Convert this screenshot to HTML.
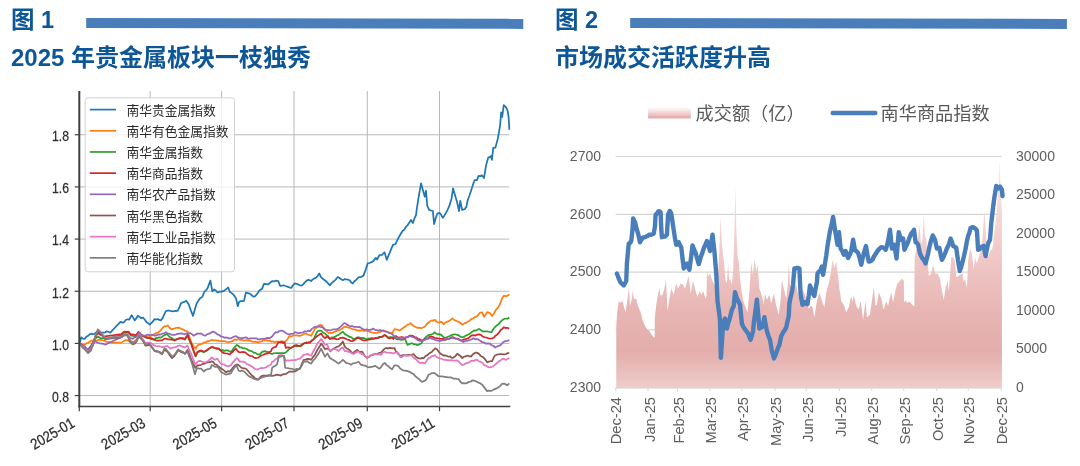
<!DOCTYPE html>
<html lang="zh-CN">
<head>
<meta charset="utf-8">
<title>图1 2025年贵金属板块一枝独秀 / 图2 市场成交活跃度升高</title>
<style>
html,body{margin:0;padding:0;background:#fff;}
body{width:1080px;height:466px;overflow:hidden;position:relative;font-family:"Liberation Sans",sans-serif;}
svg{position:absolute;left:0;top:0;display:block;opacity:0.9999;will-change:opacity;}
text{font-family:"Liberation Sans",sans-serif;}
.cjk{font-family:"Liberation Sans","Noto Sans CJK SC",sans-serif;}
</style>
</head>
<body>
<svg width="1080" height="466" viewBox="0 0 1080 466">
<defs>
<linearGradient id="ag" x1="0" y1="158" x2="0" y2="388" gradientUnits="userSpaceOnUse">
<stop offset="0" stop-color="#fbeaea"/>
<stop offset="0.38" stop-color="#f1cccb"/>
<stop offset="0.66" stop-color="#e7b6b4"/>
<stop offset="0.84" stop-color="#e3adab"/>
<stop offset="1" stop-color="#eecdcb"/>
</linearGradient>
<linearGradient id="lg" x1="0" y1="108" x2="0" y2="119" gradientUnits="userSpaceOnUse">
<stop offset="0" stop-color="#fdf6f5"/>
<stop offset="0.3" stop-color="#f7e0e0"/>
<stop offset="0.6" stop-color="#efc5c8"/>
<stop offset="0.88" stop-color="#e5aaa9"/>
<stop offset="1" stop-color="#eec6c5"/>
</linearGradient>
<clipPath id="c1"><rect x="79.5" y="90" width="431" height="316"/></clipPath>
</defs>
<!-- header 1 -->
<g id="hdr1">
<polygon points="86.2,18.0 523.3,18.75 523.3,28.9 86.2,27.9" fill="#4a7ebb"/>
<text class="cjk" x="11" y="27.6" font-size="23.5" font-weight="bold" fill="#0d5799">图 1</text>
<text class="cjk" x="11" y="65.7" font-size="24" font-weight="bold" fill="#0d5799">2025 年贵金属板块一枝独秀</text>
</g>
<!-- header 2 -->
<g id="hdr2">
<polygon points="630.2,18.1 1066.9,18.9 1066.9,28.9 630.2,27.9" fill="#4a7ebb"/>
<text class="cjk" x="555" y="27.6" font-size="23.5" font-weight="bold" fill="#0d5799">图 2</text>
<text class="cjk" x="555" y="65.7" font-size="24" font-weight="bold" fill="#0d5799">市场成交活跃度升高</text>
</g>
<!-- left chart -->
<g id="chart1">
<g stroke="#b9b9b9" stroke-width="1" fill="none">
<line x1="150.2" y1="91" x2="150.2" y2="406.55"/>
<line x1="221.6" y1="91" x2="221.6" y2="406.55"/>
<line x1="294" y1="91" x2="294" y2="406.55"/>
<line x1="367.3" y1="91" x2="367.3" y2="406.55"/>
<line x1="439.5" y1="91" x2="439.5" y2="406.55"/>
<line x1="79.3" y1="395.56" x2="509.3" y2="395.56"/>
<line x1="79.3" y1="343.4" x2="509.3" y2="343.4"/>
<line x1="79.3" y1="291.24" x2="509.3" y2="291.24"/>
<line x1="79.3" y1="239.08" x2="509.3" y2="239.08"/>
<line x1="79.3" y1="186.92" x2="509.3" y2="186.92"/>
<line x1="79.3" y1="134.76" x2="509.3" y2="134.76"/>
</g>
<g fill="none" stroke-width="1.75" stroke-linejoin="round" stroke-linecap="butt" clip-path="url(#c1)">
<path d="M79.7 343.3 L81.2 337.32 L82.9 338.52 L84.6 338.83 L86.3 336.91 L88 335.7 L89.5 334.59 L91 333.67 L92.75 334.15 L94.5 333.81 L96 332.43 L97.5 332.16 L99 332.67 L100.5 333.63 L102 332.5 L103.5 332.67 L105.2 332.32 L106.9 331.27 L110.3 332.7 L114.6 328 L120.42 321.82 L122.91 322.66 L124.46 321.68 L126.02 319.73 L127.58 319.26 L129.13 319.73 L131.62 315.19 L133.18 317.63 L134.73 320.44 L136.29 318.18 L137.84 315.75 L139.4 316.7 L140.95 318.06 L143.19 317.71 L144.87 319.76 L146.55 322.31 L148.11 323.23 L149.66 324.66 L152.15 322.34 L154.64 319.1 L156.2 319.55 L157.75 318.99 L159.31 319.94 L160.86 320.43 L162.42 318.37 L163.97 315.15 L165.84 311.06 L167.71 310.73 L169.57 310.73 L171.44 311.19 L173.31 311.45 L175.49 310.84 L177.66 310.78 L179.43 307.05 L181.2 302.97 L182.86 302.34 L184.52 301.86 L186.18 300.74 L188.67 304.31 L190.84 310.33 L193.02 315.91 L194.89 309.29 L196.75 303.21 L198.31 300.78 L199.87 298.55 L202.35 296.87 L204.22 291.96 L205.78 290.52 L207.33 288.69 L208.89 284.64 L210.44 280.67 L212.31 291.38 L214.18 289.39 L216.04 290.8 L217.91 292.48 L219.78 291.61 L221.64 291.65 L223.2 291.18 L224.75 290.23 L226.5 288.87 L228.24 287.46 L229.73 291.71 L231.6 293.11 L233.46 294.59 L235.95 298.22 L237.82 306.2 L239.06 301.99 L240.72 301.08 L242.38 301.01 L244.04 300.79 L245.91 292.53 L247.78 293.06 L249.64 293.62 L251.3 294.83 L252.96 296.35 L254.62 296.61 L256.28 294.9 L257.94 292.66 L259.6 290.18 L262.09 288.87 L263.95 283.93 L266.13 284.11 L268.31 284.43 L270.17 282.76 L272.04 281.08 L273.91 281.42 L275.77 280.7 L278.26 281.14 L280 285.65 L280.6 285.99 L282.16 285.52 L283.71 285.3 L285.58 286.04 L287.44 286.68 L289.31 287.44 L291.18 287.97 L293.04 285.18 L294.91 283.38 L296.78 283.74 L298.64 284.79 L300.2 285.5 L301.75 285.52 L303.31 284.18 L304.87 282.42 L306.73 280.6 L308.6 279.69 L311.09 281.1 L312.75 279.48 L314.41 278.37 L316.07 277.68 L317.62 276.04 L319.18 273.43 L321.04 277.1 L322.91 278.99 L324.78 280.32 L326.44 281.54 L328.09 283.31 L329.75 285.39 L331.62 283.11 L333.49 281.53 L335.66 279.59 L337.84 277.02 L339.5 277.94 L341.16 279.25 L342.82 280.17 L344.69 279.1 L346.35 279.47 L348 279.61 L349.66 280.21 L351.22 282.43 L352.78 283.51 L354.43 281.29 L356.09 279.9 L357.75 278.06 L359.31 277.02 L360.86 277.06 L363.35 275.87 L365.53 270.08 L367.71 263.44 L369.57 263.01 L371.44 262.15 L373.31 261.13 L375.8 257.86 L377.04 259.47 L379.53 255.03 L382.02 254.9 L384.51 252.27 L386.78 259.87 L388.33 255.94 L389.89 252.37 L391.44 248.38 L393 244.93 L395.49 244.03 L397.04 240.58 L398.6 237.62 L401.09 233.22 L402.75 230.74 L404.41 229.33 L406.07 226.73 L407.72 225.07 L409.38 222.55 L411.04 219.94 L412.91 222.97 L414.46 218.45 L416.02 215.18 L416.69 209.64 L418.55 197.57 L421.04 183.33 L422.91 189.99 L424.78 196.64 L426.02 190.75 L427.26 205.74 L429.13 209.96 L431 210.5 L432.86 211.05 L434.11 224.1 L435.98 217.19 L437.22 213.68 L439.71 212.94 L441.26 215.1 L442.82 217.76 L444.38 215.66 L445.93 212.88 L447.49 209.87 L449.04 206.67 L451.53 198.84 L453.02 188.28 L455.26 195.95 L457.13 202.26 L459 211.03 L460.24 200.77 L462.11 210 L464.6 209.17 L466.46 206.62 L467.71 199.99 L469.26 195.96 L470.82 191.41 L472.69 185.41 L474.55 180.18 L476.91 180.22 L478.63 175.83 L480.24 176.2 L481.85 175.28 L483.99 178.09 L486.14 164.91 L488.28 157.44 L489.68 157.34 L491.07 155.96 L491.93 159.87 L493.22 147.99 L495.36 147.67 L497.94 138.22 L500.09 125.33 L501.16 112.43 L502.23 117 L503.73 105.07 L506.09 107.39 L507.6 110.57 L508.67 117.72 L509.31 129.7" stroke="#1f77b4"/>
<path d="M79.7 343.3 L81.33 344.48 L82.97 345.1 L84.6 344.99 L86.3 343.4 L88 342.76 L89.75 341.83 L91.5 340.58 L93.25 340.52 L95 341.05 L96.5 340.63 L98 340.04 L99.58 339.72 L101.15 340.17 L102.72 340.25 L104.3 340.61 L106.22 341.62 L108.15 342.09 L110.08 342.13 L112 342.57 L121.5 342.6 L124 340.89 L126 340.19 L128 340.27 L129.5 341.46 L131 342.41 L132.67 341.52 L134.33 341.3 L136 340.01 L137.85 338.14 L139.71 336.01 L141.37 335.77 L143.03 336.34 L144.69 336.58 L146.35 336.77 L148 337.35 L149.66 336.84 L151.32 335.34 L152.98 335.15 L154.64 333.79 L156.3 333.1 L157.96 332.47 L159.62 331.28 L161.28 329.76 L162.94 327.5 L164.6 326.16 L166.15 326.3 L167.71 325.39 L169.57 327.73 L171.44 329.39 L173 328.81 L174.55 328.43 L176.42 327.91 L178.29 327.63 L180.15 328.17 L182.02 329.07 L183.51 329.55 L185 330.72 L187.49 331.41 L189.36 336.78 L191.22 342.45 L193.4 346.04 L195.58 348.75 L197.44 345.53 L199.1 344.58 L200.76 344.08 L202.42 343.76 L204.08 342.44 L205.74 342.5 L207.4 341.07 L209.06 341.26 L210.72 340.12 L212.38 340.15 L214.04 340.39 L215.7 340.35 L217.35 340.56 L219.01 340.94 L220.67 341.08 L222.33 341.09 L223.99 341.03 L225.65 341.61 L227.31 342.01 L229.18 341.95 L231.04 341.6 L232.91 340.94 L234.78 339.42 L236.64 339.8 L238.51 339.16 L240.17 340.02 L241.83 339.61 L243.49 340.63 L245.15 340.28 L246.81 340.23 L248.46 340.74 L250.12 340.5 L251.78 341.41 L253.44 341.97 L255.1 341.7 L256.76 341.87 L258.42 342.6 L260.08 341.71 L261.74 341.44 L263.4 340.33 L264.95 340.39 L266.51 340.16 L268.06 340.76 L269.62 340.35 L271.28 341.72 L272.94 341.23 L274.6 342.53 L276.26 341.64 L277.92 341.71 L279.57 341.95 L281.23 341.39 L282.89 341.42 L284.55 341.89 L287.04 339.88 L289.53 335.98 L291.35 336.58 L293.18 335.37 L295 335.35 L296.56 335.38 L298.11 335.69 L299.67 335.83 L301.22 335.35 L302.88 334.72 L304.54 333.73 L306.2 333.64 L307.86 334.61 L309.52 335.2 L311.18 335.73 L313.04 332.42 L314.91 328.86 L316.78 327.38 L318.64 325.56 L320.2 324.94 L321.75 325.03 L323.31 327.22 L324.87 329.74 L326.73 331.43 L328.6 333.22 L330.47 332.6 L332.33 333.08 L333.99 332.09 L335.65 331.4 L337.31 330.38 L339.18 330.48 L341.04 329.19 L342.6 328.19 L344.15 326.78 L345.71 326.55 L347.26 327.47 L348.92 327.63 L350.58 328.16 L352.24 329.09 L353.9 329.32 L355.56 329.66 L357.22 330.62 L358.88 330.36 L360.54 330.72 L362.2 330.14 L363.86 330.94 L365.52 330.44 L367.18 331.15 L368.83 331.29 L370.49 332.12 L372.15 332.48 L373.81 332.99 L375.47 333.09 L377.13 332.93 L378.79 332.33 L380.45 331.83 L382.11 330.94 L383.77 330.83 L385.43 331.48 L387.09 331.61 L388.74 332.69 L390.4 332.73 L392.06 333.47 L394.55 329.16 L396.21 329.4 L397.87 329.8 L399.53 330.56 L401.35 329.27 L403.18 327.84 L405 326.89 L407.49 324.68 L409.04 324.38 L410.6 323.18 L412.16 324.78 L413.71 326.03 L415.58 327.01 L417.44 327.97 L419.31 327.58 L421.18 328.27 L423.04 327.53 L424.91 326.53 L426.78 324.02 L428.64 322.48 L430.2 321.24 L431.75 320.47 L433.31 320.66 L434.87 319.9 L437.35 322.23 L438.91 322.6 L440.47 321.65 L442.02 322.38 L443.58 324.29 L445.44 322.48 L447.31 321.62 L448.97 321.08 L450.63 319.84 L452.29 318.37 L454.78 320.44 L456.64 320.98 L458.51 321.7 L460.38 322.92 L462.24 324.86 L464.11 323.38 L465.98 322.85 L467.84 321.56 L469.71 320.67 L471.37 318.92 L473.03 318.7 L474.69 317.21 L477.18 316.14 L479.66 312.95 L482.15 312.36 L484.02 316.85 L485.57 314.43 L487.13 312.2 L489.62 312.82 L492.11 315.91 L493.97 313.42 L495.84 309.96 L497.71 307.95 L499.57 305 L502.06 298.46 L503.93 295.65 L506.42 296.33 L507.85 295.53 L509.28 294.33" stroke="#ff7f0e"/>
<path d="M79.7 343.3 L81.33 344.22 L82.97 345.82 L84.6 346.94 L86.3 348.62 L88 350.06 L89.5 347.48 L91 345.77 L92.75 343 L94.5 339.08 L96.4 337.58 L98.3 336.84 L99.65 337.51 L101 338.66 L103.5 337.89 L105.2 338.77 L121.5 335 L124.1 332.23 L126.25 332.56 L128.4 332.58 L130.9 335.41 L132.6 335.99 L134.3 336.21 L136 336.09 L138.46 332.15 L140.95 334.56 L142.82 335.52 L144.69 336.78 L146.35 337.86 L148 337.8 L149.66 338.35 L151.32 339.16 L152.98 339.42 L154.64 339.82 L155.89 337.95 L157.44 338.05 L159 337.31 L160.55 337.59 L162.11 336.94 L163.77 335.44 L165.43 334.66 L167.09 334.13 L169.57 336.98 L171.23 337.71 L172.89 338.98 L174.55 339.77 L176.11 339.47 L177.66 338.92 L179.22 338.47 L180.77 338.29 L182.89 338.97 L185 339.69 L187.49 335.29 L189.36 340.07 L191.22 344.09 L193.4 350.73 L195.58 356.44 L197.44 351.84 L199.31 351.81 L201.18 350.98 L203.67 352.2 L205.53 351.15 L207.4 350.24 L209.58 348.23 L211.75 347.19 L213.31 347.74 L214.87 348.17 L216.73 348.06 L218.6 349.06 L221.09 350.75 L222.64 350.02 L224.2 350.87 L225.75 350.4 L227.31 350.34 L228.87 350.89 L230.42 351.88 L232.29 350.34 L234.15 347.8 L236.64 344.97 L238.2 345.61 L239.75 347.5 L241.41 347.4 L243.07 348.27 L244.73 348.25 L247.22 349.27 L248.88 350.69 L250.54 350.7 L252.2 351.55 L253.86 352.7 L255.52 352.85 L257.18 354.1 L259.66 354.57 L262.15 351.81 L263.81 351.34 L265.47 351.21 L267.13 351.93 L268.79 352.15 L270.45 353.55 L272.11 353.81 L273.77 353.27 L275.43 353.16 L277.09 353.01 L278.95 353.17 L280.82 353.11 L282.69 353.07 L284.55 353.06 L286.11 352.28 L287.66 350.51 L290.15 348.24 L291.77 347.71 L293.39 346.3 L295 345.69 L296.66 346.46 L298.32 346.03 L299.98 346.13 L301.64 344.49 L303.3 343.93 L304.96 343.04 L306.61 342.22 L308.27 342.72 L309.93 342.44 L311.8 340.29 L313.67 339.33 L315.53 335.18 L317.4 331.26 L319.27 330.69 L321.13 330.65 L323 332.4 L324.87 333.44 L326.73 335.32 L328.6 338.11 L330.26 338.37 L331.92 337.31 L333.58 337.38 L335.24 336.68 L336.89 335.52 L338.55 334.85 L340.73 333.13 L342.91 331.74 L344.46 333.47 L346.02 334.81 L347.89 335.7 L349.75 336.91 L351.62 337.45 L353.49 339.3 L355.35 338.61 L357.22 337.31 L358.88 337.27 L360.54 338.18 L362.2 337.9 L363.86 338.06 L365.52 338.77 L367.18 339.36 L368.83 338.46 L370.49 338.39 L372.15 338.19 L373.81 338.5 L375.47 337.86 L377.13 337.94 L378.79 336.96 L380.45 336.75 L382.11 336.6 L384.6 335.1 L386.46 336.28 L388.33 337.64 L390.2 337.13 L392.06 337.41 L394.55 337.87 L396.11 338.86 L397.66 339.36 L399.22 339.04 L400.77 339.78 L402.89 339.63 L405 338.71 L407.49 344.88 L409.15 344.13 L410.81 343.46 L412.47 343.39 L414.13 344.46 L415.78 344.46 L417.44 345.28 L419.31 344.32 L421.18 343.45 L423.04 340.58 L424.91 338.09 L426.57 336.44 L428.23 335.22 L429.89 334.99 L431.55 334.4 L433.21 333.7 L434.87 332.26 L436.42 333.76 L437.98 334.36 L439.53 334.13 L441.09 334.89 L442.95 336.74 L444.82 337.97 L446.69 337.29 L448.55 336.54 L450.73 335.52 L452.91 334.65 L455.09 334.26 L457.26 334.82 L458.92 335.35 L460.58 336.81 L462.24 337.05 L463.9 336.92 L465.56 335.84 L467.22 334.98 L468.88 334.21 L470.54 333.18 L472.2 331.7 L474.06 330.46 L475.93 330.54 L477.8 329.4 L479.66 329.08 L481.53 330.62 L483.4 331.68 L485.26 331.25 L487.13 331.25 L489.31 331.8 L491.49 332.21 L493.04 329.5 L494.6 327.48 L496.46 325.73 L498.33 324.33 L500.2 322.15 L502.06 320.32 L504.55 318.62 L507.04 318.75 L509.28 317.6" stroke="#2ca02c"/>
<path d="M79.7 343.3 L81.33 344.22 L82.97 345.29 L84.6 346.95 L86.3 348.34 L88 350.29 L89.5 348.63 L91 347.2 L92.75 343.36 L94.5 339.13 L96.2 335.67 L97.9 333.02 L100.5 334.89 L102 335.41 L103.5 336.41 L105.2 336.46 L121.5 334 L124.1 331.61 L126.25 331.79 L128.4 331.55 L130.9 334.54 L132.6 334.33 L134.3 334.77 L136 335.36 L138.46 331.89 L140.95 334.44 L142.82 335.97 L144.69 336.56 L146.35 337.3 L148 337.79 L149.66 338 L151.32 338.23 L152.98 339.21 L154.64 339.67 L156.51 340.54 L158.37 340.62 L160.24 340.39 L162.11 340.39 L164.6 338.57 L166.26 338.75 L167.92 339.41 L169.57 339.41 L171.23 339.67 L172.89 339.97 L174.55 340.54 L176.11 339.78 L177.66 338.84 L179.22 338.39 L180.77 338.15 L182.89 338.07 L185 339.03 L187.49 335.02 L189.36 339.05 L191.22 343.68 L193.4 349.85 L195.58 356.03 L197.44 351.99 L199.31 350.77 L201.18 350.47 L203.67 351.61 L205.53 350.98 L207.4 349.78 L209.58 348.16 L211.75 346.9 L213.31 347.18 L214.87 348.05 L216.73 348.82 L218.6 348.45 L220.47 349.98 L222.33 352.25 L223.99 353.11 L225.65 353.34 L227.31 353.5 L229.8 354.54 L231.35 352.8 L232.91 351.73 L234.46 349.65 L236.02 348.74 L238.51 351.94 L240.17 352.3 L241.83 352.04 L243.49 351.98 L245.35 352.42 L247.22 354.14 L248.88 355.42 L250.54 355.82 L252.2 356.07 L254.06 357.58 L255.93 358.03 L257.8 357.74 L259.66 356.63 L261.32 355.53 L262.98 355.01 L264.64 354.07 L266.2 353.48 L267.75 353.55 L269.31 352.17 L270.86 351.52 L272.11 348.43 L273.97 347.31 L275.84 346.91 L278.33 342.36 L279.89 342.17 L281.44 341.94 L283 343 L284.55 342.39 L285.8 347.88 L287.46 347.49 L289.11 347.49 L290.77 347.86 L292.89 346.99 L295 345.36 L296.66 345.17 L298.32 345.91 L299.98 345.99 L301.64 345.67 L303.3 343.58 L304.96 343.01 L306.61 343.12 L308.27 342.48 L309.93 342.61 L311.8 340.79 L313.67 339.14 L315.53 337.6 L317.4 335.93 L319.27 334.82 L321.13 333.55 L323 336.31 L324.87 338.18 L326.42 337.09 L327.98 335.93 L329.84 339.15 L331.5 338.75 L333.16 338.5 L334.82 338.51 L336.69 339.4 L338.55 339.09 L340.73 337.79 L342.91 337.6 L345.09 338.41 L347.26 339.5 L348.92 339.77 L350.58 340.99 L352.24 341.21 L353.9 340.44 L355.56 339.35 L357.22 338.02 L358.88 338.16 L360.54 338.92 L362.2 340.07 L363.86 340.37 L365.52 340.4 L367.18 339.81 L368.83 339.66 L370.49 339.42 L372.15 338.71 L373.81 338.81 L375.47 338.26 L377.13 338.1 L378.79 337.83 L380.45 336.91 L382.11 336.98 L384.6 335.13 L386.46 335.96 L388.33 338.25 L390.2 338.26 L392.06 337.48 L393.31 339.05 L394.55 336.35 L396.21 336.12 L397.87 337.55 L399.53 337.48 L401.35 337.08 L403.18 337.41 L405 338.09 L406.66 337.23 L408.32 336.57 L409.98 335.6 L411.64 335.68 L413.3 336.05 L414.96 337.47 L416.51 337.46 L418.07 339.27 L419.62 339.14 L421.18 340.52 L422.84 340.09 L424.5 339.58 L426.15 338.53 L427.81 338.34 L429.47 336.91 L431.13 336.72 L432.79 336.85 L434.45 337.94 L436.11 338.02 L437.77 338.27 L439.43 338.75 L441.09 338.9 L442.95 338.88 L444.82 339.8 L446.69 339.12 L448.55 338.95 L450.42 338.02 L452.29 337.09 L453.84 337.57 L455.4 338.52 L456.95 338.69 L458.51 338.9 L460.38 340.16 L462.24 340.53 L463.9 339.26 L465.56 339.18 L467.22 338.45 L468.88 337.82 L470.54 336.21 L472.2 335.27 L473.86 335.17 L475.52 335.54 L477.18 334.58 L479.04 334.31 L480.91 334.83 L482.78 336.48 L484.64 337.27 L486.51 337.5 L488.37 338.32 L490.24 338.53 L492.11 338.3 L493.77 337.72 L495.43 335.66 L497.09 334.68 L498.95 332.69 L500.82 329.76 L502.37 328.91 L503.93 327.15 L505.49 328.07 L507.04 327.78 L509.28 328.55" stroke="#d62728"/>
<path d="M79.7 343.3 L81.33 344.65 L82.97 345.99 L84.6 347.04 L86.75 348.73 L88.9 349.62 L90.6 347.86 L92.3 344.97 L94.5 340.88 L97 342.41 L98.95 343.03 L100.9 343.69 L103.05 343.64 L105.2 344.69 L121.5 337 L124.1 334.38 L125.8 334.75 L127.5 334.94 L130.1 337.77 L132.7 338.86 L134.35 337.64 L136 337 L137.54 335.23 L139.09 332.86 L140.64 334.62 L142.2 335.34 L144.06 335.65 L145.93 335.33 L147.8 334.6 L149.66 335.07 L151.32 334.75 L152.98 334.96 L154.64 335.74 L156.51 335.49 L158.37 334.32 L160.24 334.66 L162.11 333.66 L163.97 333.23 L165.84 332.26 L167.71 333.55 L169.57 333.74 L171.23 334.62 L172.89 334.95 L174.55 334.79 L176.11 334.41 L177.66 333.86 L179.22 333.53 L180.77 333.43 L182.89 333.72 L185 334.32 L186.66 333.28 L188.32 333.69 L189.98 333.01 L191.84 334.1 L193.71 335.73 L195.58 334.62 L197.44 333.62 L199.31 333.56 L201.18 333.56 L203.67 335.36 L205.53 335.53 L207.4 334.1 L209.27 333.7 L211.13 332.63 L212.69 331.58 L214.24 331.98 L215.8 332.93 L217.35 334.37 L219.22 334.99 L221.09 336.6 L222.75 336.65 L224.41 337.78 L226.07 337.3 L227.72 337.96 L229.38 338.37 L231.04 338.28 L232.7 337.26 L234.36 336.65 L236.02 336.21 L237.89 337.46 L239.75 337.88 L241.41 338.16 L243.07 338.01 L244.73 337.62 L246.39 337.3 L248.05 338.81 L249.71 338.49 L251.37 338.29 L253.03 338.41 L254.69 338.27 L256.35 338.29 L258 339.4 L259.66 339.33 L261.32 338.96 L262.98 338.84 L264.64 338.78 L266.3 338.14 L267.96 337.94 L269.62 338.16 L272.11 336.44 L273.97 333.93 L275.84 332.25 L277.5 332.43 L279.16 331.26 L280.82 330.55 L282.69 330.91 L284.55 331.89 L286.42 333.48 L288.29 334.31 L290.15 334.05 L292.02 333.75 L293.51 333.71 L295 332.24 L296.66 332.65 L298.32 333.26 L299.98 332.87 L301.64 332.7 L303.3 332.34 L304.96 331.24 L306.61 331.52 L308.27 330.71 L309.93 331.15 L311.8 328.89 L313.67 327.61 L315.33 326.78 L316.98 326.56 L318.64 326.44 L320.2 326.93 L321.75 327.05 L323.31 328.01 L324.87 329.3 L326.52 330 L328.18 330.12 L329.84 330.45 L331.5 330.02 L333.16 329.3 L334.82 329.25 L336.48 329.27 L338.14 328.62 L339.8 327.5 L341.98 325.27 L344.15 323.01 L345.71 323.53 L347.26 324.85 L348.92 325.71 L350.58 326.23 L352.24 326.13 L354.11 326.85 L355.98 326.95 L357.84 327.06 L359.71 326.9 L361.58 328.38 L363.44 329.25 L365.1 329.76 L366.76 329.46 L368.42 329.93 L370.08 329.84 L371.74 329.33 L373.4 328.59 L375.06 329.85 L376.72 330.11 L378.37 330.59 L380.03 329.97 L381.69 330.61 L383.35 330.44 L385.01 331.38 L386.67 331.75 L388.33 332.57 L390.2 333.22 L392.06 333.81 L394.55 336.7 L396.21 337.36 L397.87 337.89 L399.53 338.18 L401.35 337.63 L403.18 338.02 L405 337.58 L406.66 337.17 L408.32 337.05 L409.98 336.24 L411.64 336.66 L413.3 337.3 L414.96 337.73 L416.61 339.33 L418.27 340.49 L419.93 340.99 L421.59 340.81 L423.25 340.43 L424.91 339.86 L426.57 338.74 L428.23 338.85 L429.89 337.93 L431.55 338.71 L433.21 339.04 L434.87 339.81 L436.42 340.39 L437.98 340.54 L439.53 340.95 L441.09 340.77 L442.75 340.18 L444.41 340.1 L446.07 339.83 L447.62 338.95 L449.18 339.04 L450.73 338.51 L452.29 337.67 L453.84 338.32 L455.4 338.49 L456.95 338.75 L458.51 339.58 L460.17 340.36 L461.83 341.03 L463.49 342.1 L465.15 341.06 L466.81 340.96 L468.46 340.32 L470.12 339.89 L471.78 339.24 L473.44 338.38 L475.31 339.3 L477.18 338.89 L478.83 340.05 L480.49 340.94 L482.15 342.2 L484.02 342.4 L485.89 343.65 L487.75 343.46 L489.62 343.51 L491.49 345.11 L493.35 345.74 L495.22 347.49 L497.4 346.34 L499.57 345.64 L501.44 344.28 L503.31 342.02 L505.3 341.15 L507.29 341 L509.28 340" stroke="#9467bd"/>
<path d="M79.7 343.3 L81.2 345.74 L82.9 347.79 L84.6 349.19 L86.3 350.91 L88 352.96 L90.6 350.88 L93.2 344.29 L95.3 336.72 L97.9 329.94 L100.5 332.73 L102 334.48 L103.5 337.04 L105.2 339.11 L121.5 337.4 L124.1 335.26 L125.8 335.5 L127.5 335.69 L130.1 341.75 L132.7 344.33 L134.35 343.72 L136 342.29 L136.6 341.26 L139.09 336.22 L140.64 338.41 L142.2 339.79 L143.75 342.18 L145.31 345.61 L147.49 345.4 L149.66 344.57 L152.15 347.76 L154.64 350.92 L156.3 351.64 L157.96 351.64 L159.62 352.53 L162.11 354.22 L164.6 349.43 L166.15 351 L167.71 351.99 L169.89 355.5 L172.06 358.11 L174.55 355.8 L176.42 353.11 L178.29 350.16 L180.15 351.56 L182.02 352.54 L183.51 352.49 L185 353.74 L187.49 349.94 L189.15 353.8 L190.81 358.29 L192.47 362.14 L194.02 365.59 L195.58 367.94 L197.44 365.26 L199.31 365.33 L201.18 364.73 L203.04 363.83 L204.91 363.57 L206.78 362.52 L208.64 362.19 L210.2 362.15 L211.75 361.18 L213.31 362.06 L214.87 364.33 L216.52 364.66 L218.18 366.07 L219.84 367.5 L221.4 368.7 L222.95 369.57 L224.51 370.9 L226.07 372.23 L227.72 371.22 L229.38 371.64 L231.04 370.21 L232.6 368.15 L234.15 366.18 L235.71 365.01 L237.26 364.43 L239.13 365.45 L241 367.54 L242.66 368.2 L244.32 368.34 L245.98 368.74 L247.84 370.67 L249.71 373.07 L251.37 374.92 L253.03 376.25 L254.69 377.87 L256.55 379.07 L258.42 379.71 L259.98 377.39 L261.53 376.14 L263.4 375.53 L265.26 375.59 L267.13 375.53 L268.79 375.21 L270.45 375.24 L272.11 375.84 L273.77 375.71 L275.43 375.02 L277.09 374.66 L278.95 375.03 L280.82 375.6 L282.69 374.48 L284.55 374.11 L286.21 373.78 L287.87 372.63 L289.53 371.55 L291.35 371.63 L293.18 371.64 L295 371.49 L296.66 370.47 L298.32 369.33 L299.98 368.66 L301.84 363.94 L303.71 359.87 L305.58 359.74 L307.44 358.76 L309.31 359.03 L311.18 359.85 L313.04 357.09 L314.91 354.77 L316.47 351.7 L318.02 348.74 L319.58 346.63 L321.13 343.52 L323 345.83 L324.87 349.2 L327.35 348.39 L328.91 349.28 L330.47 351.22 L332.64 349.07 L334.82 348.08 L336.69 346.88 L338.55 346.32 L340.73 344.36 L342.91 341.54 L344.78 346.58 L346.64 348.51 L348.51 349.28 L350.38 350.99 L352.24 353.09 L353.9 352.29 L355.56 350.87 L357.22 349.83 L359.71 352.14 L362.2 351.64 L364.69 355.89 L367.18 357.99 L369.04 356.82 L370.91 355.27 L372.57 355.18 L374.23 354.13 L375.89 354.01 L377.55 353.75 L379.2 352.91 L380.86 352.52 L382.73 350.62 L384.6 348.7 L386.26 347.94 L387.92 348.58 L389.57 347.78 L391.23 348.12 L392.89 348.47 L394.55 348.17 L395.8 351.28 L397.46 352.69 L399.11 354.64 L400.77 356.21 L402.89 355.01 L405 355.03 L406.66 355.35 L408.32 354.82 L409.98 355.07 L411.84 354.56 L413.71 354.2 L415.58 356.43 L417.44 357.83 L419 358.4 L420.56 358.62 L422.11 357.79 L423.67 358.25 L425.53 355.99 L427.4 355.1 L429.58 353.11 L431.75 352.05 L433.62 349.87 L435.49 348.29 L437.04 349.39 L438.6 351.62 L440.26 353.45 L441.92 354.48 L443.58 355.57 L445.24 355.41 L446.89 355.99 L448.55 356.74 L450.21 356.47 L451.87 357.81 L453.53 357.55 L455.4 356.09 L457.26 353.78 L458.92 354.95 L460.58 356.09 L462.24 358.15 L463.9 356.75 L465.56 356.44 L467.22 355.54 L469.09 356.17 L470.95 356.6 L472.82 354.42 L474.69 353.08 L476.24 352.5 L477.8 353.08 L479.35 354.2 L480.91 356.07 L482.78 357 L484.64 358.7 L487.13 362.35 L488.79 361.65 L490.45 361.24 L492.11 361.19 L494.6 355.75 L496.26 355.04 L497.92 354.32 L499.57 354.22 L501.23 354 L502.89 354.4 L504.55 354.45 L506.13 353.98 L507.7 353.11 L509.28 353.07" stroke="#8c564b"/>
<path d="M79.7 343.3 L81.2 344.92 L82.9 346.23 L84.6 348.37 L86.3 349.64 L88 352.02 L90.6 349.74 L93.2 343.79 L95.3 336.3 L97.9 329.28 L100.5 331.97 L102 333.63 L103.5 336.1 L105.2 338.36 L121.5 336.6 L124.1 334.76 L125.8 334.15 L127.5 334.47 L130.1 340.36 L132.7 342.91 L134.35 341.84 L136 340.75 L136.6 340.09 L139.09 334.67 L140.64 337.18 L142.2 338.52 L143.75 340.37 L145.31 342.79 L147.49 342.56 L149.66 342.76 L151.22 343.09 L152.78 344.44 L154.33 345.38 L155.89 346.03 L157.44 346.46 L159 346.19 L160.55 346.49 L162.11 347.19 L163.77 347.13 L165.43 346.42 L167.09 346 L168.95 347.43 L170.82 348.55 L172.69 347.71 L174.55 347.47 L176.21 346.95 L177.87 345.78 L179.53 345.5 L181.35 346.12 L183.18 347.16 L185 347.44 L187.49 345.43 L189.15 350.05 L190.81 352.96 L192.47 357.32 L194.02 361.4 L195.58 364.65 L197.44 361.7 L199.31 360.85 L201.18 361.17 L203.04 362.03 L204.91 362.37 L206.78 361.85 L208.64 360.38 L210.2 359.14 L211.75 357.4 L213.31 358.69 L214.87 359.82 L217.35 358.76 L219.22 361.62 L221.09 363.56 L222.64 364.4 L224.2 364.29 L225.75 365.68 L227.31 366.14 L229.18 366.03 L231.04 364.98 L232.6 362.7 L234.15 361.03 L236.64 358.06 L238.2 359.27 L239.75 361.69 L241.41 361.52 L243.07 361.67 L244.73 362.12 L246.6 363.9 L248.46 364.64 L250.64 365.76 L252.82 367.26 L255 369 L257.18 369.6 L259.04 368.8 L260.91 367.96 L262.57 368.18 L264.23 367.9 L265.89 367.48 L267.55 366.21 L269.2 365.55 L270.86 364.75 L272.11 361.89 L273.77 361.22 L275.43 359.22 L277.09 358.44 L278.95 355.36 L280.61 355.17 L282.27 355.47 L283.93 355.53 L285.8 360.97 L287.46 360.29 L289.11 360.58 L290.77 360.4 L292.89 360.23 L295 360.06 L296.66 359.64 L298.32 359 L299.98 358.61 L301.84 356.9 L303.71 354.61 L305.58 354.68 L307.44 353.71 L309.31 354.96 L311.18 355.59 L313.04 351.89 L314.91 348.55 L317.4 343.43 L319.27 341.6 L321.13 339.06 L323 341.55 L324.87 344.73 L327.35 344.7 L329.84 351.01 L331.5 349.93 L333.16 349.24 L334.82 349.05 L336.69 349.68 L338.55 351.02 L340.73 348.65 L342.91 347.53 L344.78 351.14 L346.44 351.08 L348.09 351.62 L349.75 352.26 L351.62 353.1 L353.49 354.02 L355.35 353.06 L357.22 351.32 L359.09 352.29 L360.95 353.57 L362.82 354.32 L364.69 355.87 L367.18 357.86 L369.04 356.41 L370.91 355.6 L372.57 354.62 L374.23 354.04 L375.89 354.42 L377.55 354.44 L379.2 354.19 L380.86 354.84 L382.73 352.7 L384.6 351.72 L386.46 352.6 L388.33 352.51 L389.99 352.98 L391.65 352.87 L393.31 353.51 L395.17 352.55 L397.04 352.46 L398.91 354.86 L400.77 357.44 L402.89 356.17 L405 355.31 L406.56 355.69 L408.11 355.77 L409.67 355.48 L411.22 355.08 L413.09 357.18 L414.96 358.78 L416.61 359.79 L418.27 361.59 L419.93 362.95 L421.59 362.66 L423.25 362.87 L424.91 363.54 L426.78 360.55 L428.64 358.14 L430.2 357.66 L431.75 356.15 L433.31 356.08 L434.87 355.17 L436.73 357.03 L438.6 357.98 L440.26 358.33 L441.92 358.96 L443.58 359.76 L445.24 359.56 L446.89 360.06 L448.55 360.1 L450.11 360.47 L451.67 360.2 L453.22 360.56 L454.78 360.68 L456.64 360.35 L458.51 361.23 L460.38 363.51 L462.24 365.02 L463.9 364.57 L465.56 363.62 L467.22 362.87 L468.88 362.54 L470.54 361.16 L472.2 360.68 L473.86 360.89 L475.52 359.99 L477.18 359.86 L479.04 361.38 L480.91 361.88 L482.78 363.25 L484.64 365.33 L486.2 365.56 L487.75 366.93 L489.31 367.28 L490.86 367.21 L492.73 366.52 L494.6 365.12 L496.46 363.52 L498.33 361.71 L500.2 360.59 L502.06 359.11 L503.72 358.71 L505.38 359.85 L507.04 359.36 L509.28 358.04" stroke="#e377c2"/>
<path d="M79.7 343.3 L81.2 345.07 L82.9 347.45 L84.6 348.42 L86.3 350.8 L88 352.3 L90.6 350.18 L93.2 344.54 L95.3 336.46 L97.9 329.77 L100.5 332.28 L102 334.39 L103.5 336.6 L105.2 338.55 L121.5 337 L124.1 335.06 L125.8 334.41 L127.5 334.77 L130.1 340.67 L132.7 343.39 L134.35 342.49 L136 341.89 L136.6 340.43 L139.09 335.32 L140.64 337.09 L142.2 339.48 L143.75 341.52 L145.31 344.9 L147.49 344.07 L149.66 343.68 L152.15 347.25 L154.64 350.53 L156.3 350.85 L157.96 351.45 L159.62 351.88 L162.11 353.59 L164.6 348.4 L166.15 349.3 L167.71 351.28 L169.89 353.85 L172.06 356.52 L174.55 355.01 L176.42 352.09 L178.29 349.31 L180.15 350.9 L182.02 351.58 L183.51 352.45 L185 353.74 L187.49 351.58 L189.15 356.43 L190.81 359.98 L192.47 364.91 L194.96 374.25 L196.82 368.15 L199 368.66 L201.18 368.56 L203.67 371.52 L205.53 370 L207.4 369.19 L208.95 368.88 L210.51 368.35 L211.75 365.01 L213.31 365.76 L214.87 366.78 L217.35 366.55 L219.22 369.18 L221.09 372.05 L222.75 372.93 L224.41 373.67 L226.07 374.74 L227.72 374.01 L229.38 373.93 L231.04 373.1 L232.6 370.03 L234.15 367.88 L236.64 365.28 L238.51 370.5 L240.17 371.2 L241.83 370.48 L243.49 371.17 L245.35 372.67 L247.22 374.54 L249.09 376.34 L250.95 377.07 L252.82 378.35 L255 379.05 L257.18 379.62 L259.04 378.71 L260.91 377.86 L262.78 377.17 L264.64 376.69 L266.2 376.23 L267.75 375.85 L269.31 375.68 L270.86 375.83 L272.11 367.94 L273.77 366.52 L275.43 365.81 L277.09 364.2 L278.95 356.21 L280.61 356.69 L282.27 355.59 L283.93 355.88 L285.17 367.76 L287.04 368 L288.91 368.44 L290.77 368.67 L292.89 369 L295 370.02 L296.66 368.77 L298.32 369.34 L299.98 368.37 L301.84 365.54 L303.71 361.44 L305.58 361.91 L307.44 361.17 L309.31 362.88 L311.18 363.57 L313.04 360.66 L314.91 358.78 L316.78 356 L318.64 353.38 L321.13 348.65 L323 352.64 L324.87 356.67 L327.35 353.41 L329.84 357.75 L331.5 359.07 L333.16 359.95 L334.82 360.86 L336.69 362.21 L338.55 363.64 L340.73 361.92 L342.91 359.78 L344.46 361.23 L346.02 362.84 L347.68 363.2 L349.34 363.79 L351 364.75 L352.86 363.37 L354.73 363.02 L356.6 362.54 L358.46 361.72 L360.95 364.55 L362.51 365.08 L364.06 365.63 L365.62 365.69 L367.18 366.87 L369.66 367.39 L371.32 366.85 L372.98 366.68 L374.64 365.88 L376.3 366.53 L377.96 367.71 L379.62 368.63 L381.28 366.82 L382.94 364.18 L384.6 362.96 L386.46 364.96 L388.33 366.14 L390.2 368.09 L392.06 369.36 L394.55 365.27 L396.42 365.47 L398.29 366.04 L400.15 368.46 L402.02 369.69 L403.51 370.59 L405 370.54 L406.66 370.85 L408.32 371.43 L409.98 371.95 L411.84 373.32 L413.71 374.12 L415.58 376.5 L417.44 377.81 L419.62 379.66 L421.8 381.91 L423.98 381.17 L426.15 379.73 L428.64 374.74 L430.2 374.05 L431.75 373.14 L433.31 373.2 L434.87 373.19 L436.73 374.81 L438.6 376.24 L440.26 376.42 L441.92 376.34 L443.58 376.68 L445.24 376.91 L446.89 377.16 L448.55 377.49 L450.21 377.47 L451.87 377.64 L453.53 378.69 L455.19 378.51 L456.85 378.89 L458.51 379.01 L460.38 381.77 L462.24 383.45 L463.9 383.1 L465.56 383.5 L467.22 382.93 L468.88 381.84 L470.54 381.74 L472.2 380.4 L474.06 380.59 L475.93 381.29 L477.8 382.35 L479.66 383.05 L481.53 384.19 L483.4 386.19 L485.26 388.65 L487.13 391.18 L488.79 390.65 L490.45 390.94 L492.11 390.54 L494.6 389.1 L496.46 388.41 L498.33 387.42 L500.2 386.01 L502.06 383.76 L504.55 383.69 L507.04 385.25 L509.28 383.55" stroke="#7f7f7f"/>
</g>
<g stroke="#404040" fill="none">
<line x1="79.3" y1="91" x2="79.3" y2="407.3" stroke-width="2"/>
<line x1="78.3" y1="406.55" x2="510.3" y2="406.55" stroke-width="1.45"/>
</g>
<g stroke="#404040" stroke-width="1.2">
<line x1="79.3" y1="406.55" x2="79.3" y2="411.15"/>
<line x1="150.2" y1="406.55" x2="150.2" y2="411.15"/>
<line x1="221.6" y1="406.55" x2="221.6" y2="411.15"/>
<line x1="294" y1="406.55" x2="294" y2="411.15"/>
<line x1="367.3" y1="406.55" x2="367.3" y2="411.15"/>
<line x1="439.5" y1="406.55" x2="439.5" y2="411.15"/>
<line x1="74.7" y1="395.56" x2="79.3" y2="395.56"/>
<line x1="74.7" y1="343.4" x2="79.3" y2="343.4"/>
<line x1="74.7" y1="291.24" x2="79.3" y2="291.24"/>
<line x1="74.7" y1="239.08" x2="79.3" y2="239.08"/>
<line x1="74.7" y1="186.92" x2="79.3" y2="186.92"/>
<line x1="74.7" y1="134.76" x2="79.3" y2="134.76"/>
</g>
<g font-size="14.5" fill="#2e2e2e" stroke="#2e2e2e" stroke-width="0.25" text-anchor="end">
<text transform="translate(68.9,401.86) scale(0.84,1)">0.8</text>
<text transform="translate(68.9,349.7) scale(0.84,1)">1.0</text>
<text transform="translate(68.9,297.54) scale(0.84,1)">1.2</text>
<text transform="translate(68.9,245.38) scale(0.84,1)">1.4</text>
<text transform="translate(68.9,193.22) scale(0.84,1)">1.6</text>
<text transform="translate(68.9,141.06) scale(0.84,1)">1.8</text>
</g>
<g font-size="15.1" fill="#2e2e2e" stroke="#2e2e2e" stroke-width="0.25" text-anchor="end">
<text transform="translate(75.7,426) rotate(-30) scale(0.865,1)">2025-01</text>
<text transform="translate(146.6,426) rotate(-30) scale(0.865,1)">2025-03</text>
<text transform="translate(218,426) rotate(-30) scale(0.865,1)">2025-05</text>
<text transform="translate(290.4,426) rotate(-30) scale(0.865,1)">2025-07</text>
<text transform="translate(363.7,426) rotate(-30) scale(0.865,1)">2025-09</text>
<text transform="translate(435.9,426) rotate(-30) scale(0.865,1)">2025-11</text>
</g>
<rect x="85.2" y="97.8" width="149.3" height="174.0" rx="2.6" ry="2.6" fill="#fff" fill-opacity="0.8" stroke="#d2d2d2" stroke-width="1"/>
<line x1="89.8" y1="109.6" x2="116" y2="109.6" stroke="#1f77b4" stroke-width="1.7"/>
<text class="cjk" x="126.5" y="114.7" font-size="12.75" fill="#2a2a2a">南华贵金属指数</text>
<line x1="89.8" y1="130.78" x2="116" y2="130.78" stroke="#ff7f0e" stroke-width="1.7"/>
<text class="cjk" x="126.5" y="135.9" font-size="12.75" fill="#2a2a2a">南华有色金属指数</text>
<line x1="89.8" y1="151.96" x2="116" y2="151.96" stroke="#2ca02c" stroke-width="1.7"/>
<text class="cjk" x="126.5" y="157.1" font-size="12.75" fill="#2a2a2a">南华金属指数</text>
<line x1="89.8" y1="173.14" x2="116" y2="173.14" stroke="#d62728" stroke-width="1.7"/>
<text class="cjk" x="126.5" y="178.25" font-size="12.75" fill="#2a2a2a">南华商品指数</text>
<line x1="89.8" y1="194.32" x2="116" y2="194.32" stroke="#9467bd" stroke-width="1.7"/>
<text class="cjk" x="126.5" y="199.45" font-size="12.75" fill="#2a2a2a">南华农产品指数</text>
<line x1="89.8" y1="215.5" x2="116" y2="215.5" stroke="#8c564b" stroke-width="1.7"/>
<text class="cjk" x="126.5" y="220.6" font-size="12.75" fill="#2a2a2a">南华黑色指数</text>
<line x1="89.8" y1="236.68" x2="116" y2="236.68" stroke="#e377c2" stroke-width="1.7"/>
<text class="cjk" x="126.5" y="241.8" font-size="12.75" fill="#2a2a2a">南华工业品指数</text>
<line x1="89.8" y1="257.86" x2="116" y2="257.86" stroke="#7f7f7f" stroke-width="1.7"/>
<text class="cjk" x="126.5" y="263" font-size="12.75" fill="#2a2a2a">南华能化指数</text>
</g>
<!-- right chart -->
<g id="chart2">
<g stroke="#d5d5d5" stroke-width="1.15">
<line x1="615.6" y1="156.5" x2="1001.6" y2="156.5"/>
<line x1="615.6" y1="214.3" x2="1001.6" y2="214.3"/>
<line x1="615.6" y1="272.1" x2="1001.6" y2="272.1"/>
<line x1="615.6" y1="329.9" x2="1001.6" y2="329.9"/>
<line x1="615.6" y1="387.7" x2="1001.6" y2="387.7"/>
</g>
<path d="M616.25 388 L616.25 326 L617.2 312 L618.75 301 L620.6 303 L622.5 300.4 L624.4 308.5 L625.6 312.25 L627.5 298.5 L629 286.6 L630 306 L631.9 298.5 L632.9 289.75 L633.75 298.5 L636.25 299 L638.1 306 L640.6 312.25 L642.5 319.75 L645 326 L647.5 329.75 L649.38 330.92 L651.25 334.25 L653.75 337.25 L654.7 337.5 L654.8 318 L656.25 304.75 L658.1 293.5 L659.4 288.5 L660.6 296 L662.5 294.75 L664.4 288.5 L666 279.75 L667.5 311 L669.4 298.5 L671.25 288.5 L673.75 294.75 L676.25 283.5 L678.1 288.5 L680.6 283.5 L683.1 284.75 L685 288.5 L687.5 279.75 L688.75 276 L690.6 293.5 L693.1 281 L695 288.5 L697.5 297.25 L699.4 291 L701.25 294.75 L703.1 291 L705.6 298.5 L706.6 294.75 L706.9 269.75 L708 276 L710 273.5 L712.5 281 L715 286 L717.5 284 L719.4 250 L720.6 216 L721.9 245 L724 262 L725.5 280 L726.9 283.5 L728.1 263.5 L729.2 281 L730 278.5 L731.9 284.75 L733.2 270 L734.4 230 L735.4 186.6 L736.3 228 L737.5 256 L738.8 262 L740 278 L741.25 288.5 L743 300 L745 306 L747.5 312.25 L749.5 290 L751.25 262 L752.8 275 L754.75 259 L756.2 272 L757.5 264 L759.4 288.5 L761.9 296 L763.75 304.75 L765 293.5 L766.9 299.75 L769.4 294.75 L771.25 303.5 L773.75 293.5 L776.25 306 L778.75 314.75 L780.6 300 L781.9 279.75 L783.75 288.5 L786.25 298.5 L787.8 285 L788.75 262.25 L789.8 282 L790.6 288.5 L793 292 L796 284 L798.5 297 L801 290 L803 290.48 L805 294.75 L806.88 302.07 L808.75 308.5 L810.62 305.61 L812.5 307.25 L814.4 317.25 L816.9 301 L819.4 292.25 L821.9 301 L824.4 307.25 L826.25 292.25 L828.75 283.5 L831 272 L832.5 259.75 L834.4 268 L836.25 261.6 L837.3 270 L838.1 276 L839.4 288.5 L841.25 301 L843.75 304.75 L846.25 312.25 L848.75 307.25 L851.25 296 L852.75 302.25 L853.75 294.75 L856.25 306 L858.75 309.75 L860.6 301 L863.1 319.75 L865.6 301 L866.9 317.25 L870 314.75 L871.88 300.91 L873.75 287.25 L875.6 306 L876.9 304.75 L878.75 292.25 L881.25 298.5 L883.75 309.75 L886.25 301 L888.1 306 L889.67 298.24 L891.25 292.25 L893.1 302.25 L895.6 289.75 L897.17 283.67 L898.75 282.25 L900.33 280.15 L901.9 278.5 L903.9 281 L904 302.25 L905.62 300.45 L907.25 302.93 L908.88 301.85 L910.5 302.57 L912.12 304.76 L913.75 306 L914.4 306 L914.6 258 L917 246 L919.4 224.75 L921 244 L922.5 240 L923.75 214.75 L925 236 L926.25 240 L927.5 257.25 L928.75 276 L931.25 273.5 L933.1 264.75 L935 273.5 L937.5 273.5 L940 278.5 L941.88 290.39 L943.75 299.75 L945.33 289.6 L946.9 283.5 L947.5 279.75 L948.75 291 L950 276 L951.25 257.25 L953.12 257.57 L955 261 L956.25 277 L958.12 276.21 L960 274.75 L962.5 273.5 L963.75 282.25 L965 278.5 L966.9 288.5 L967.5 276 L968.1 261 L970 248.5 L971.9 253.5 L973.75 269.75 L975 257.25 L976.9 263.5 L978.75 257.25 L980.6 251 L982.5 238.5 L984.4 209.75 L986.25 238.5 L988.1 257.25 L990 251 L992.5 248.5 L994.4 232.25 L996.5 215 L998 196 L999.6 160 L1000.8 190 L1001.9 212 L1001.9 388 Z" fill="url(#ag)"/>
<g stroke="#d9d9d9" stroke-width="1">
<line x1="615.6" y1="388" x2="1002.1" y2="388"/>
<line x1="615.75" y1="387.7" x2="615.75" y2="391.1"/>
<line x1="648" y1="387.7" x2="648" y2="391.1"/>
<line x1="677.5" y1="387.7" x2="677.5" y2="391.1"/>
<line x1="710" y1="387.7" x2="710" y2="391.1"/>
<line x1="741.75" y1="387.7" x2="741.75" y2="391.1"/>
<line x1="775" y1="387.7" x2="775" y2="391.1"/>
<line x1="806.25" y1="387.7" x2="806.25" y2="391.1"/>
<line x1="839.4" y1="387.7" x2="839.4" y2="391.1"/>
<line x1="871.75" y1="387.7" x2="871.75" y2="391.1"/>
<line x1="903.75" y1="387.7" x2="903.75" y2="391.1"/>
<line x1="936.75" y1="387.7" x2="936.75" y2="391.1"/>
<line x1="968.25" y1="387.7" x2="968.25" y2="391.1"/>
<line x1="1001.25" y1="387.7" x2="1001.25" y2="391.1"/>
</g>
<path d="M616.9 273.5 L618.75 278.5 L620.6 282.6 L622.17 283.91 L623.75 285.4 L625 283.31 L626.25 281 L626.9 263.5 L628.75 243.5 L630 243.01 L631.25 241 L632.5 229.75 L633.1 218.5 L635 222.25 L636.9 229.75 L638.1 233.5 L640 242.25 L641.25 240.01 L642.5 237.9 L644.17 237.28 L645.83 236.79 L647.5 236 L649.06 234.81 L650.62 234.77 L652.19 234.36 L653.75 233.5 L655 226 L655.6 214.75 L656.85 213.7 L658.1 211.6 L659.35 211.19 L660.6 212.25 L661.25 228.5 L661.9 237.25 L663.45 236.57 L665 236.6 L666.9 234.75 L668.1 214.75 L669.75 211 L671.25 213.5 L673.1 226 L675 238.5 L676.25 244.75 L677.5 242.76 L678.75 242.25 L680 245.31 L681.25 247.25 L682.5 258.22 L683.75 268.5 L685.33 265.18 L686.9 263.5 L688.15 267.49 L689.4 269.75 L690.95 258.41 L692.5 245.4 L694.05 249.43 L695.6 252.9 L697.17 258.71 L698.75 264.1 L700.62 257.56 L702.5 252.25 L703.97 247.63 L705.43 244.8 L706.9 241 L708.45 245.21 L710 251 L711.25 242.32 L712.5 234.75 L714.4 251 L716.25 273.5 L717.5 301 L718.75 309.91 L720 319.75 L720.9 357.9 L723.1 323.5 L725 318.5 L726.9 328.5 L728.15 323.28 L729.4 319.75 L730.65 314.69 L731.9 309.75 L733.75 306 L735 292.25 L736.9 298.5 L738.45 301.52 L740 304.75 L741.9 323.5 L743.15 326.62 L744.4 328.5 L746.25 331.03 L748.1 333.5 L749.35 336.88 L750.6 339.75 L751.85 335.37 L753.1 331 L753.75 323.5 L755.33 311.92 L756.9 299.75 L758.15 314.05 L759.4 328.5 L760.65 327.48 L761.9 327.25 L763.15 323.15 L764.4 317.25 L765.65 325.02 L766.9 331 L768.45 335.99 L770 339.75 L771.9 351 L774 358.5 L775.45 355.12 L776.9 351 L778.15 347.54 L779.4 344.75 L781.25 336 L783.12 332.39 L785 329.75 L786.25 327.25 L787.5 321.25 L788.75 316 L789.4 303.5 L790.65 297.1 L791.9 292.25 L793.1 284.25 L794.4 268.5 L795.65 268.68 L796.9 267.9 L798.15 268.02 L799.4 268.5 L800.6 294.75 L802.5 304.75 L803.75 304.12 L805 302.25 L806.25 302.97 L807.5 304.1 L808.75 295.57 L810 285.4 L811.9 291 L813.15 294.13 L814.4 296 L815.65 288.23 L816.9 282.25 L817.5 273.5 L818.75 271.73 L820 271 L821.9 266.6 L823.1 274.75 L825 263.5 L826.25 255.49 L827.5 246 L828.75 238.45 L830 231 L831.55 224.81 L833.1 216.9 L835 230 L836.25 237.19 L837.5 244.75 L839 232.25 L840.6 248.5 L842.17 250.86 L843.75 254.75 L845.6 251 L846.85 254.68 L848.1 257.9 L849.67 254.95 L851.25 251 L853.1 239.75 L855 250.4 L856.55 251.24 L858.1 252.9 L859.67 258.08 L861.25 264.75 L862.5 258.82 L863.75 253.5 L866 246 L867.38 254.64 L868.75 261.6 L870.62 261.14 L872.5 259.75 L874.05 256.24 L875.6 254.1 L877.5 251 L879.38 248.67 L881.25 247.25 L882.7 247.37 L884.15 248.12 L885.6 249.75 L886.85 245.91 L888.1 241 L890 229.75 L891.9 248.5 L893.15 246.04 L894.4 244.75 L896.5 258.5 L898.75 232.25 L900 236.11 L901.25 239.75 L903.1 238.5 L904.4 249.75 L905.95 246.53 L907.5 243.5 L909.38 237.94 L911.25 233.5 L912.62 232.04 L914 229.75 L915.6 242.25 L916.85 242.84 L918.1 244.75 L920 253.5 L921.25 256.26 L922.5 258.5 L924.05 260.31 L925.6 263.5 L926.85 258.36 L928.1 253.5 L929.35 247.36 L930.6 242.25 L932.75 235.4 L935 239.75 L936.9 248.5 L938.15 247.79 L939.4 247.9 L940.65 254.67 L941.9 259.75 L943.45 257.17 L945 253.5 L946.55 249.4 L948.1 246 L949.35 242.94 L950.6 238.5 L951.85 241.73 L953.1 246 L954.67 246.76 L956.25 247.9 L958.1 261 L959.75 271 L961.12 267.26 L962.5 262.25 L964.05 255.63 L965.6 248.5 L966.85 241.53 L968.1 236 L969.35 232.83 L970.6 227.9 L972.17 227.18 L973.75 227.5 L975.33 228.56 L976.9 230.5 L978.1 249.75 L979.67 248.99 L981.25 247.25 L982.5 246.32 L983.75 246 L985.6 256 L986.85 249.38 L988.1 243.5 L990 239.75 L991.25 223.5 L993.1 207.25 L994.4 197.25 L996.25 186 L998.1 188.5 L1000 186.6 L1001.9 189.75 L1002.5 196" fill="none" stroke="#4a7ebb" stroke-width="4.4" stroke-linejoin="round" stroke-linecap="round"/>
<g font-size="14" fill="#5e5e5e" text-anchor="end">
<text x="601" y="160.7">2700</text>
<text x="601" y="218.5">2600</text>
<text x="601" y="276.3">2500</text>
<text x="601" y="334.1">2400</text>
<text x="601" y="391.9">2300</text>
</g>
<g font-size="14" fill="#5e5e5e" text-anchor="start">
<text x="1016" y="160.7">30000</text>
<text x="1016" y="199.23">25000</text>
<text x="1016" y="237.77">20000</text>
<text x="1016" y="276.3">15000</text>
<text x="1016" y="314.83">10000</text>
<text x="1016" y="353.37">5000</text>
<text x="1016" y="391.9">0</text>
</g>
<g font-size="14.7" fill="#5e5e5e" text-anchor="end">
<text transform="translate(621.45,397) rotate(-90)">Dec-24</text>
<text transform="translate(654.7,397) rotate(-90)">Jan-25</text>
<text transform="translate(683.95,397) rotate(-90)">Feb-25</text>
<text transform="translate(716.45,397) rotate(-90)">Mar-25</text>
<text transform="translate(748.2,397) rotate(-90)">Apr-25</text>
<text transform="translate(781.45,397) rotate(-90)">May-25</text>
<text transform="translate(813.2,397) rotate(-90)">Jun-25</text>
<text transform="translate(845.5,397) rotate(-90)">Jul-25</text>
<text transform="translate(878.2,397) rotate(-90)">Aug-25</text>
<text transform="translate(910.2,397) rotate(-90)">Sep-25</text>
<text transform="translate(942.7,397) rotate(-90)">Oct-25</text>
<text transform="translate(974.45,397) rotate(-90)">Nov-25</text>
<text transform="translate(1007.2,397) rotate(-90)">Dec-25</text>
</g>
<rect x="648.1" y="108.2" width="42.7" height="10.4" fill="url(#lg)"/>
<text class="cjk" x="695.5" y="120" font-size="18.2" fill="#595959">成交额（亿）</text>
<line x1="832.7" y1="113" x2="875.3" y2="113" stroke="#4a7ebb" stroke-width="4.4" stroke-linecap="round"/>
<text class="cjk" x="880.5" y="120" font-size="18.2" fill="#595959">南华商品指数</text>
</g>
</svg>
</body>
</html>
